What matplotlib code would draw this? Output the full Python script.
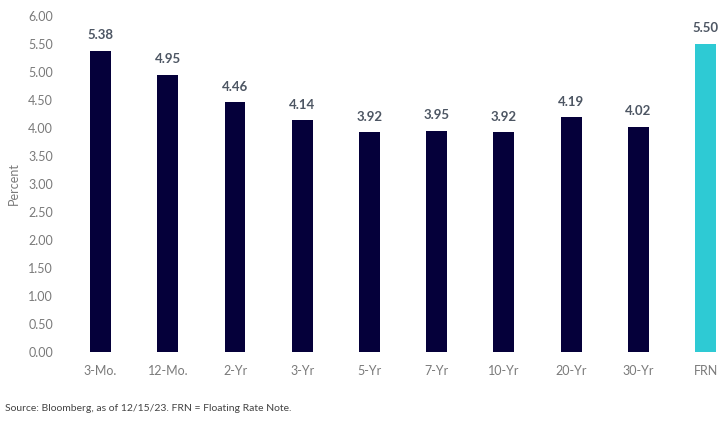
import numpy as np
import matplotlib.pyplot as plt

plt.rcParams["font.family"] = ["Lato", "DejaVu Sans"]

categories = ["3-Mo.", "12-Mo.", "2-Yr", "3-Yr", "5-Yr", "7-Yr", "10-Yr", "20-Yr", "30-Yr", "FRN"]
values = [5.38, 4.95, 4.46, 4.14, 3.92, 3.95, 3.92, 4.19, 4.02, 5.50]
colors = ["#05003a"] * 9 + ["#2ecad4"]

fig = plt.figure(figsize=(7.28, 4.23), dpi=100)
ax = fig.add_axes([67 / 728, 71 / 423, 652 / 728, 336 / 423])

x = np.arange(len(categories))
ax.bar(x, values, width=0.31, color=colors)
for xi, v in zip(x, values):
    ax.text(xi, v + 0.17, f"{v:.2f}", ha="center", va="bottom",
            fontsize=9.5, fontweight="bold", color="#4d5663")

ax.set_xlim(-0.5, 9.2)
ax.set_ylim(0, 6)
ax.set_yticks(np.arange(0, 6.01, 0.5))
ax.set_yticklabels([f"{t:.2f}" for t in np.arange(0, 6.01, 0.5)])
ax.set_xticks(x)
ax.set_xticklabels(categories)
ax.tick_params(length=0, labelsize=9, labelcolor="#7a7a7a")
ax.tick_params(axis="x", pad=9)
ax.tick_params(axis="y", pad=10)
for s in ax.spines.values():
    s.set_visible(False)
ax.set_ylabel("Percent", fontsize=9, color="#7a7a7a", labelpad=6)

fig.text(5 / 728, 1 - 408 / 423, "Source: Bloomberg, as of 12/15/23. FRN = Floating Rate Note.",
         fontsize=7.5, color="#444444", va="center")

fig.savefig("out.png", dpi=100)
